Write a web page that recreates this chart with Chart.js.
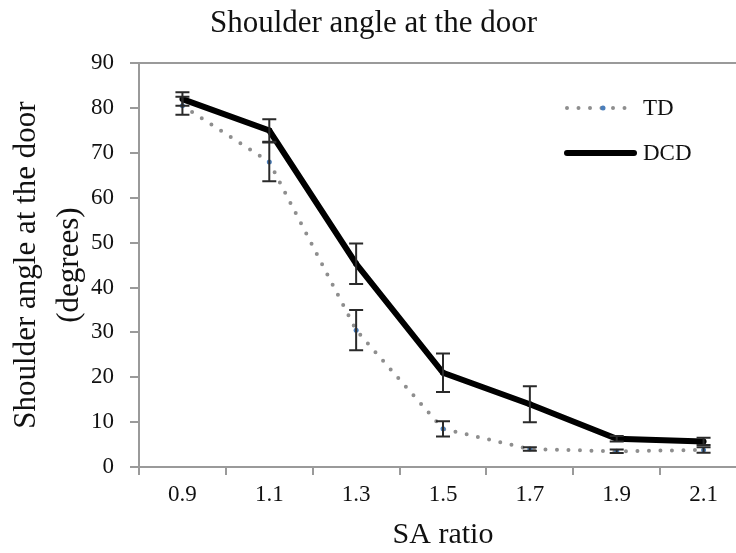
<!DOCTYPE html>
<html>
<head>
<meta charset="utf-8">
<script src="https://cdn.jsdelivr.net/npm/chart.js@4.4.1/dist/chart.umd.min.js"></script>
<style>
  html, body { margin: 0; padding: 0; background: #fff; overflow: hidden; }
  #wrap { width: 766px; height: 553px; }
</style>
</head>
<body>
<div id="wrap"><canvas id="chart" width="766" height="553"></canvas></div>
<script>
// values
const saRatio = ['0.9', '1.1', '1.3', '1.5', '1.7', '1.9', '2.1'];
const tdMean  = [80.5, 68, 30.5, 8.5, 4, 3.5, 3.8];
const tdErr   = [2, 4.3, 4.5, 1.7, 0.4, 0.4, 0.6];
const dcdMean = [82, 75, 45.3, 21, 14, 6.3, 5.7];
const dcdErr  = [1.5, 2.5, 4.5, 4.3, 4, 0.6, 0.8];
const yTicks  = [0, 10, 20, 30, 40, 50, 60, 70, 80, 90];

const serif = "'Liberation Serif', 'Times New Roman', serif";
const axisGray = '#9a9a9a';

// vertical error bars with caps
const errorBars = {
  id: 'errorBars',
  afterDatasetsDraw(chart) {
    const ctx = chart.ctx;
    const y = chart.scales.y;
    chart.data.datasets.forEach((ds, i) => {
      const meta = chart.getDatasetMeta(i);
      meta.data.forEach((pt, j) => {
        const m = ds.data[j], e = ds.errors[j];
        const top = y.getPixelForValue(m + e);
        const bot = y.getPixelForValue(m - e);
        ctx.save();
        ctx.strokeStyle = '#2a2a2a';
        ctx.lineWidth = 2;
        ctx.beginPath();
        ctx.moveTo(pt.x, top); ctx.lineTo(pt.x, bot);
        ctx.moveTo(pt.x - 7, top); ctx.lineTo(pt.x + 7, top);
        ctx.moveTo(pt.x - 7, bot); ctx.lineTo(pt.x + 7, bot);
        ctx.stroke();
        ctx.restore();
      });
    });
  }
};

// legend sitting inside the plot, top right
const innerLegend = {
  id: 'innerLegend',
  afterDraw(chart) {
    const ctx = chart.ctx;
    const x0 = 567, x1 = 634;
    chart.data.datasets.forEach((ds, i) => {
      const yy = 108 + i * 45;
      ctx.save();
      ctx.strokeStyle = ds.borderColor;
      ctx.lineWidth = ds.borderWidth;
      ctx.lineCap = 'round';
      ctx.setLineDash(ds.borderDash || []);
      ctx.beginPath();
      ctx.moveTo(x0, yy); ctx.lineTo(x1, yy);
      ctx.stroke();
      ctx.setLineDash([]);
      ctx.fillStyle = ds.pointBackgroundColor;
      ctx.beginPath();
      ctx.arc(603, yy, ds.pointRadius, 0, Math.PI * 2);
      ctx.fill();
      ctx.fillStyle = '#111';
      ctx.font = '23px ' + serif;
      ctx.textBaseline = 'middle';
      ctx.fillText(ds.label, 643, yy + 1);
      ctx.restore();
    });
  }
};

new Chart(document.getElementById('chart'), {
  type: 'line',
  data: {
    labels: saRatio,
    datasets: [{
      label: 'TD',
      data: tdMean,
      errors: tdErr,
      borderColor: '#8e8e8e',
      borderWidth: 4,
      borderDash: [0, 11.5],
      borderCapStyle: 'round',
      pointRadius: 2.5,
      pointBackgroundColor: '#4a7ebb',
      pointBorderWidth: 0,
      tension: 0
    }, {
      label: 'DCD',
      data: dcdMean,
      errors: dcdErr,
      borderColor: '#000',
      borderWidth: 6,
      pointRadius: 3,
      pointBackgroundColor: '#000',
      pointBorderWidth: 0,
      tension: 0
    }]
  },
  options: {
    responsive: false,
    animation: false,
    layout: { padding: { left: 0, right: 19, top: 0, bottom: 0 } },
    plugins: {
      legend: { display: false },
      tooltip: { enabled: false },
      title: {
        display: true,
        text: 'Shoulder angle at the door',
        color: '#111',
        font: { family: serif, size: 31, weight: 'normal', lineHeight: 1.2 },
        padding: { top: 5, bottom: 21 }
      }
    },
    scales: {
      x: {
        offset: true,
        afterFit(scale) { scale.height = 86; },
        grid: { offset: true, drawOnChartArea: false, drawTicks: true, tickLength: 8, color: axisGray, lineWidth: 2 },
        border: { color: axisGray, width: 2 },
        ticks: { color: '#111', font: { family: serif, size: 23 }, padding: 6 },
        title: { display: true, text: 'SA ratio', color: '#111', font: { family: serif, size: 30, lineHeight: 1.2 }, padding: { top: 0, bottom: 0 } }
      },
      xTop: {
        position: 'top',
        afterFit(scale) { scale.height = 0; },
        grid: { drawOnChartArea: false, drawTicks: false },
        border: { color: axisGray, width: 2 },
        ticks: { display: false }
      },
      y: {
        min: 0, max: 90,
        afterBuildTicks(scale) { scale.ticks = yTicks.map(v => ({ value: v })); },
        afterFit(scale) { scale.width = 139; },
        grid: { drawOnChartArea: false, drawTicks: true, tickLength: 9, color: axisGray, lineWidth: 2 },
        border: { color: axisGray, width: 2 },
        ticks: { color: '#111', font: { family: serif, size: 23 }, padding: 16 },
        title: { display: true, text: ['Shoulder angle at the door', '(degrees)'], color: '#111', font: { family: serif, size: 31, lineHeight: 1.37 }, padding: { top: 6, bottom: 0 } }
      }
    }
  },
  plugins: [errorBars, innerLegend]
});
</script>
</body>
</html>
